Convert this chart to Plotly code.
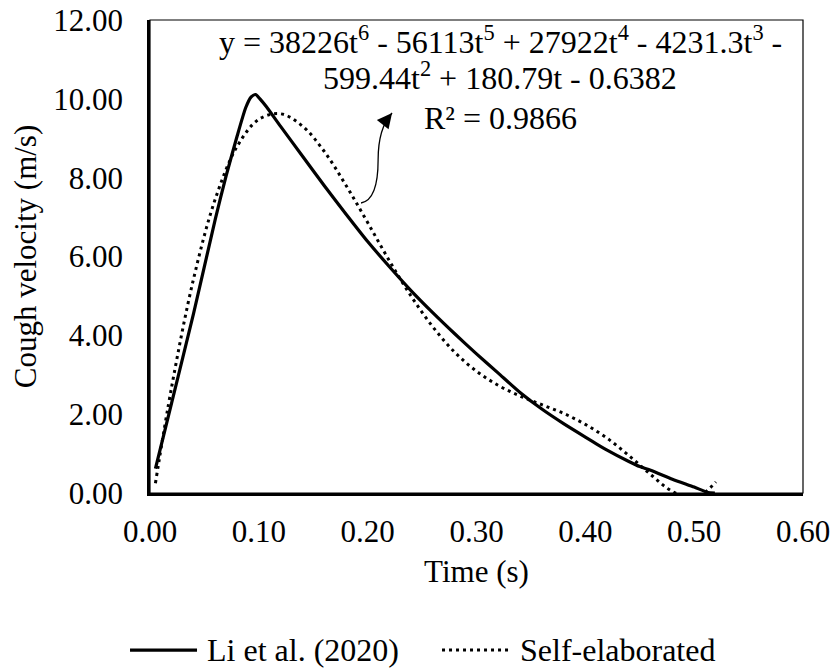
import plotly.graph_objects as go

li_t = [0.005, 0.02, 0.04, 0.06, 0.07, 0.08, 0.088, 0.093, 0.097, 0.101, 0.107,
        0.12, 0.14, 0.16, 0.18, 0.20, 0.22, 0.24, 0.26, 0.28, 0.30, 0.32, 0.34,
        0.36, 0.38, 0.40, 0.42, 0.44, 0.45, 0.46, 0.48, 0.50, 0.512, 0.519]
li_v = [0.62, 2.30, 4.55, 6.95, 8.05, 9.05, 9.78, 10.05, 10.11, 10.00, 9.80,
        9.30, 8.55, 7.80, 7.08, 6.38, 5.74, 5.13, 4.57, 4.04, 3.53, 3.04, 2.55,
        2.13, 1.76, 1.42, 1.09, 0.80, 0.67, 0.58, 0.35, 0.15, 0.02, 0.0]

# Self-elaborated (fitted) profile
se_t = [0.005, 0.02, 0.04, 0.06, 0.08, 0.10, 0.12, 0.14, 0.16, 0.18, 0.20, 0.22,
        0.24, 0.26, 0.28, 0.30, 0.32, 0.34, 0.36, 0.38, 0.40, 0.42, 0.44, 0.46,
        0.48, 0.50, 0.52]
se_v = [0.25, 2.71, 5.43, 7.46, 8.79, 9.48, 9.62, 9.31, 8.67, 7.81, 6.86, 5.89,
        4.99, 4.21, 3.57, 3.09, 2.73, 2.46, 2.24, 2.02, 1.74, 1.39, 0.95, 0.47,
        0.04, -0.14, 0.28]

series_names = ["Li et al. (2020)", "Self-elaborated"]
eq_lines = ["y = 38226t<sup>6</sup> - 56113t<sup>5</sup> + 27922t<sup>4</sup> - 4231.3t<sup>3</sup> -",
            "599.44t<sup>2</sup> + 180.79t - 0.6382",
            "R² = 0.9866"]

x_ticks = [0.0, 0.1, 0.2, 0.3, 0.4, 0.5, 0.6]
y_ticks = [0, 2, 4, 6, 8, 10, 12]

FONT = "Liberation Serif"
FS = 31
FS_BIG = 32
DOT = "3px,4px"

fig = go.Figure()
fig.add_trace(go.Scatter(x=li_t, y=li_v, mode="lines", name=series_names[0],
                         line=dict(color="black", width=3.2, shape="spline", smoothing=0.6)))
fig.add_trace(go.Scatter(x=se_t, y=se_v, mode="lines", name=series_names[1],
                         line=dict(color="black", width=3, dash=DOT, shape="spline", smoothing=1.0)))

# trendline equation (three lines)
for txt, yy in zip(eq_lines, [11.50, 10.59, 9.52]):
    fig.add_annotation(x=0.3217, y=yy, xref="x", yref="y", text=txt, showarrow=False,
                       xanchor="center", yanchor="middle",
                       font=dict(family=FONT, size=FS_BIG, color="black"))

# curved leader arrow
fig.add_shape(type="path", xref="x", yref="y",
              path="M 0.1939,7.357 Q 0.2096,7.433 0.2096,8.447 Q 0.2096,9.259 0.2224,9.640",
              line=dict(color="black", width=1.3))
fig.add_annotation(x=0.2224, y=9.640, xref="x", yref="y", text="", showarrow=True,
                   ax=-8, ay=10, arrowhead=2, arrowsize=2.3, arrowwidth=1.3,
                   arrowcolor="black", standoff=0)

# plot border
fig.add_shape(type="rect", xref="paper", yref="paper", x0=0, y0=0, x1=1, y1=1,
              line=dict(color="black", width=1.2), layer="above")

# legend (drawn below the chart)
leg_y = -0.332
fig.add_shape(type="line", xref="paper", yref="paper", x0=-0.0306, x1=0.0720,
              y0=leg_y, y1=leg_y, line=dict(color="black", width=3.2))
fig.add_annotation(x=0.0842, y=leg_y, xref="paper", yref="paper", text=series_names[0],
                   showarrow=False, xanchor="left", yanchor="middle",
                   font=dict(family=FONT, size=FS_BIG, color="black"))
fig.add_shape(type="line", xref="paper", yref="paper", x0=0.4472, x1=0.5513,
              y0=leg_y, y1=leg_y, line=dict(color="black", width=3, dash=DOT))
fig.add_annotation(x=0.5636, y=leg_y, xref="paper", yref="paper", text=series_names[1],
                   showarrow=False, xanchor="left", yanchor="middle",
                   font=dict(family=FONT, size=FS_BIG, color="black"))

fig.update_layout(
    width=833, height=669,
    margin=dict(l=150, r=30, t=20, b=176, autoexpand=False),
    paper_bgcolor="white", plot_bgcolor="white",
    font=dict(family=FONT, size=FS, color="black"),
    showlegend=False,
    xaxis=dict(range=[0, 0.6], tickvals=x_ticks, tickformat=".2f", showgrid=False,
               zeroline=False, showline=True, linecolor="black", linewidth=2.5,
               ticks="", ticklabelstandoff=9, automargin=False,
               tickfont=dict(family=FONT, size=FS),
               title=dict(text="Time (s)", font=dict(family=FONT, size=FS), standoff=13)),
    yaxis=dict(range=[0, 12], tickvals=y_ticks, tickformat=".2f", showgrid=False,
               zeroline=False, showline=True, linecolor="black", linewidth=2.5,
               ticks="", ticklabelstandoff=18, automargin=False,
               tickfont=dict(family=FONT, size=FS),
               title=dict(text="Cough velocity (m/s)", font=dict(family=FONT, size=FS), standoff=8)),
)

fig.write_html("out.html")
